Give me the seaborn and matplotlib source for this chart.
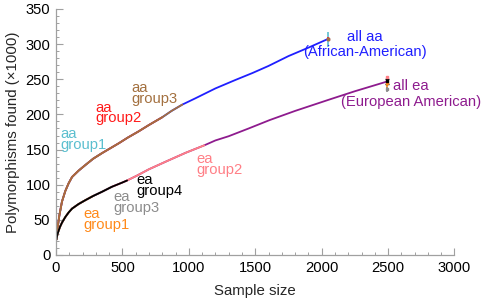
import matplotlib
matplotlib.use("Agg")
import matplotlib.pyplot as plt
from matplotlib.ticker import MultipleLocator
import seaborn as sns
import pandas as pd

# ---- data ----
aa_all_x = [3, 8, 13, 25, 45, 70, 95, 121, 170, 221, 280, 347, 410, 473, 540, 623, 700,
            800, 870, 951, 1050, 1200, 1350, 1480, 1600, 1750, 1900, 2055]
aa_all_y = [22, 32, 40, 56, 76, 91, 102, 111, 120, 128, 137, 145, 152, 159, 167, 176, 185,
            196, 205, 214, 223, 237, 249, 259, 269, 283, 295, 308]
aa_g1_x = aa_all_x[:12]
aa_g1_y = aa_all_y[:12]
aa_g2_x = aa_all_x[:18]
aa_g2_y = aa_all_y[:18]
aa_g3_x = aa_all_x[:20]
aa_g3_y = aa_all_y[:20]

ea_all_x = [3, 8, 15, 30, 45, 70, 95, 121, 170, 221, 280, 347, 420, 498, 535, 610, 700,
            840, 977, 1116, 1200, 1300, 1450, 1609, 1800, 2063, 2250, 2487]
ea_all_y = [22, 27, 32, 40, 46, 54, 60.5, 66, 72.5, 78, 84, 90, 97, 103, 106, 113, 122,
            134, 145.5, 156, 163, 169, 180, 192, 205, 221.5, 233, 246.5]
ea_g1_x = ea_all_x[:11]
ea_g1_y = ea_all_y[:11]
ea_g2_x = ea_all_x[:20]
ea_g2_y = ea_all_y[:20]
ea_g3_x = ea_all_x[:13]
ea_g3_y = ea_all_y[:13]
ea_g4_x = ea_all_x[:15]
ea_g4_y = ea_all_y[:15]

# end-point estimates: x, centre, half-range
aa_end_x = 2050
aa_end_names = ["aa group1", "aa group2", "aa group3"]
aa_end_y = [307, 308, 307.5]
aa_end_err = [10.5, 1.5, 1.5]
ea_end_x = 2490
ea_end_names = ["ea group2", "ea group1", "ea group4", "ea group3"]
ea_end_y = [253, 245, 247.5, 235.5]
ea_end_err = [1.5, 7, 3.5, 3.5]

colors = {
    "all aa": "#1f1fff",
    "aa group1": "#5bbfcf",
    "aa group2": "#ff1a1a",
    "aa group3": "#a3703f",
    "all ea": "#8e1b8e",
    "ea group1": "#ff8a1a",
    "ea group2": "#ff7f86",
    "ea group3": "#8c8c8c",
    "ea group4": "#000000",
}

series = [
    ("all aa", aa_all_x, aa_all_y),
    ("aa group1", aa_g1_x, aa_g1_y),
    ("aa group2", aa_g2_x, aa_g2_y),
    ("aa group3", aa_g3_x, aa_g3_y),
    ("all ea", ea_all_x, ea_all_y),
    ("ea group2", ea_g2_x, ea_g2_y),
    ("ea group1", ea_g1_x, ea_g1_y),
    ("ea group3", ea_g3_x, ea_g3_y),
    ("ea group4", ea_g4_x, ea_g4_y),
]

sns.set_style("white")
plt.rcParams["font.family"] = ["Liberation Sans", "DejaVu Sans"]

fig = plt.figure(figsize=(4.85, 3.01), dpi=100)
ax = fig.add_axes([56 / 485, 1 - 255 / 301, (454.5 - 56) / 485, (255 - 9) / 301])

for name, xs, ys in series:
    df = pd.DataFrame({"x": xs, "y": ys})
    sns.lineplot(data=df, x="x", y="y", ax=ax, color=colors[name], lw=1.3,
                 sort=False, estimator=None)

for name, c, e in zip(aa_end_names, aa_end_y, aa_end_err):
    ax.errorbar([aa_end_x], [c], yerr=[e], color=colors[name], lw=1.2,
                capsize=0, marker="s", ms=2)
for name, c, e in zip(ea_end_names, ea_end_y, ea_end_err):
    ax.errorbar([ea_end_x], [c], yerr=[e], color=colors[name], lw=1.2,
                capsize=1.5 if name == "ea group4" else 0, marker="s", ms=2)

fs = 10.6
grp_labels = [
    ("aa\ngroup1", 30, 164, "aa group1"),
    ("aa\ngroup2", 294, 202, "aa group2"),
    ("aa\ngroup3", 570, 230, "aa group3"),
    ("ea\ngroup1", 206, 51, "ea group1"),
    ("ea\ngroup3", 431, 75, "ea group3"),
    ("ea\ngroup4", 608, 99.5, "ea group4"),
    ("ea\ngroup2", 1060, 129, "ea group2"),
]
for txt, x, y, key in grp_labels:
    ax.text(x, y, txt, color=colors[key], fontsize=fs, ha="left", va="center",
            linespacing=0.72)

ax.text(2324, 300, "all aa\n(African-American)", color=colors["all aa"],
        fontsize=fs, ha="center", va="center", linespacing=1.1)
ax.text(2673, 229, "all ea\n(European American)", color=colors["all ea"],
        fontsize=fs, ha="center", va="center", linespacing=1.1)

ax.set_xlim(0, 3000)
ax.set_ylim(0, 350)
ax.xaxis.set_major_locator(MultipleLocator(500))
ax.xaxis.set_minor_locator(MultipleLocator(100))
ax.yaxis.set_major_locator(MultipleLocator(50))
ax.yaxis.set_minor_locator(MultipleLocator(10))

spine_col = "#a0a0a0"
for s in ["top", "right"]:
    ax.spines[s].set_visible(False)
for s in ["left", "bottom"]:
    ax.spines[s].set_color(spine_col)
    ax.spines[s].set_linewidth(0.9)
ax.tick_params(which="both", direction="in", color=spine_col, labelsize=10.6,
               labelcolor="black", left=True, bottom=True)
ax.tick_params(which="major", length=5, width=0.8, pad=4)
ax.tick_params(which="minor", length=2.5, width=0.7)

ax.set_xlabel("Sample size", fontsize=10.8, labelpad=7)
ax.set_ylabel("Polymorphisms found (×1000)", fontsize=10.8, labelpad=4)

fig.savefig("out.png", dpi=100)
